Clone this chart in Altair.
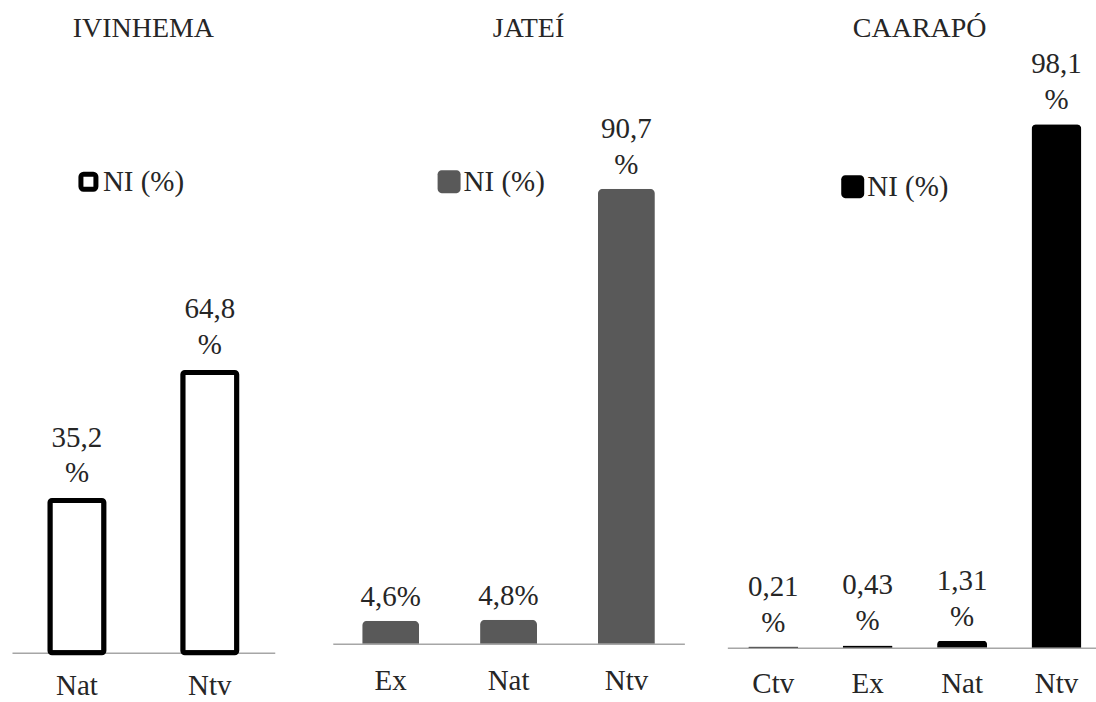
import altair as alt
import pandas as pd

# Values per municipality (percent of individuals by origin class)
ivinhema_cats = ["Nat", "Ntv"]
ivinhema_vals = [35.2, 64.8]
ivinhema_wrap = [True, True]

jatei_cats = ["Ex", "Nat", "Ntv"]
jatei_vals = [4.6, 4.8, 90.7]
jatei_wrap = [False, False, True]

caarapo_cats = ["Ctv", "Ex", "Nat", "Ntv"]
caarapo_vals = [0.21, 0.43, 1.31, 98.1]
caarapo_wrap = [True, True, True, True]

SERIES = "NI (%)"
FONT = "Liberation Serif"
TEXT = "#262626"
FS = 29
TITLE_FS = 28
LINE_STEP = 36      # distance between the two label lines

ROUND_SQUARE = ("M -0.65,-1 L 0.65,-1 A 0.35,0.35 0 0 1 1,-0.65 L 1,0.65 "
                "A 0.35,0.35 0 0 1 0.65,1 L -0.65,1 A 0.35,0.35 0 0 1 -1,0.65 "
                "L -1,-0.65 A 0.35,0.35 0 0 1 -0.65,-1 Z")


def frame(cats, vals, wrap):
    nums = [str(v).replace(".", ",") for v in vals]
    # wrapped labels put the percent sign on its own line below the number
    upper = [n if w else "" for n, w in zip(nums, wrap)]
    lower = ["%" if w else n + "%" for n, w in zip(nums, wrap)]
    return pd.DataFrame({"cat": cats, "val": vals, "upper": upper,
                         "lower": lower, "series": SERIES})


def panel(title, cats, vals, wrap, width, height, ymax, fill, pad_in, pad_out,
          align, label_pad, gap=15, bar_stroke=None, corner=5, sym_size=529,
          sym_stroke=None, sym_stroke_w=0, legend_x=0, legend_y=0,
          title_dx=0, y_axis=None):
    df = frame(cats, vals, wrap)
    x = alt.X(
        "cat:N",
        sort=cats,
        scale=alt.Scale(paddingInner=pad_in, paddingOuter=pad_out, align=align),
        axis=alt.Axis(
            title=None, ticks=False, labelAngle=0, labelFont=FONT,
            labelFontSize=FS, labelColor=TEXT, labelPadding=label_pad,
            labelBaseline="alphabetic",
            domainColor="#a6a6a6", domainWidth=1.5, grid=False,
        ),
    )
    y = alt.Y(
        "val:Q",
        scale=alt.Scale(domain=[0, ymax], nice=False, zero=True),
        axis=y_axis,
    )
    legend_kw = dict(
        title=None, orient="none", legendX=legend_x, legendY=legend_y,
        labelFont=FONT, labelFontSize=FS, labelColor=TEXT, labelOffset=0,
        symbolType=ROUND_SQUARE, symbolSize=sym_size, padding=0,
        symbolStrokeWidth=sym_stroke_w,
    )
    if sym_stroke is not None:
        legend_kw["symbolStrokeColor"] = sym_stroke
    mark_kw = dict(cornerRadiusTopLeft=corner, cornerRadiusTopRight=corner)
    if bar_stroke is not None:
        mark_kw.update(stroke=bar_stroke, strokeWidth=5, strokeJoin="round",
                       cornerRadius=corner)
    bars = alt.Chart(df).mark_bar(**mark_kw).encode(
        x=x,
        y=y,
        color=alt.Color(
            "series:N",
            scale=alt.Scale(domain=[SERIES], range=[fill]),
            legend=alt.Legend(**legend_kw),
        ),
    )
    text_kw = dict(baseline="alphabetic", font=FONT, fontSize=FS, color=TEXT)
    lower = alt.Chart(df).mark_text(dy=-gap, **text_kw).encode(
        x=alt.X("cat:N", sort=cats), y="val:Q", text="lower:N")
    upper = alt.Chart(df).mark_text(dy=-gap - LINE_STEP, **text_kw).encode(
        x=alt.X("cat:N", sort=cats), y="val:Q", text="upper:N")
    return alt.layer(bars, lower, upper).properties(
        width=width,
        height=height,
        title=alt.TitleParams(
            title, font=FONT, fontSize=TITLE_FS, fontWeight="normal",
            color=TEXT, anchor="middle", dx=title_dx, offset=3,
        ),
    )


p1 = panel("IVINHEMA", ivinhema_cats, ivinhema_vals, ivinhema_wrap,
           width=263, height=607, ymax=140.2, fill="white",
           pad_in=0.594, pad_out=0.286, align=0.5, label_pad=42, gap=18,
           bar_stroke="black", corner=2, sym_size=225, sym_stroke="black",
           sym_stroke_w=5, legend_x=62, legend_y=121, title_dx=0, y_axis=None)

spacer_axis = alt.Axis(
    title=None, domain=False, ticks=True, tickSize=14, tickColor="white",
    labels=False, grid=False, values=[0], minExtent=14, maxExtent=14,
)
p2 = panel("JATEÍ", jatei_cats, jatei_vals, jatei_wrap,
           width=352, height=598, ymax=119.1, fill="#595959",
           pad_in=0.517, pad_out=0.25, align=0.5, label_pad=46,
           legend_x=102, legend_y=121, title_dx=20, y_axis=spacer_axis)

p3 = panel("CAARAPÓ", caarapo_cats, caarapo_vals, caarapo_wrap,
           width=369, height=602, ymax=112.7, fill="black",
           pad_in=0.471, pad_out=0.188, align=0.59, label_pad=45,
           legend_x=111, legend_y=126, title_dx=8, y_axis=None)

chart = (
    alt.hconcat(p1, p2, p3, spacing=43)
    .resolve_scale(x="independent", y="independent", color="independent")
    .resolve_legend(color="independent")
    .properties(
        padding={"left": 12, "top": 15, "right": 0, "bottom": 0},
        background="white",
    )
    .configure_view(stroke=None)
)

chart.save("out.html", embed_options={"renderer": "svg", "actions": False})
